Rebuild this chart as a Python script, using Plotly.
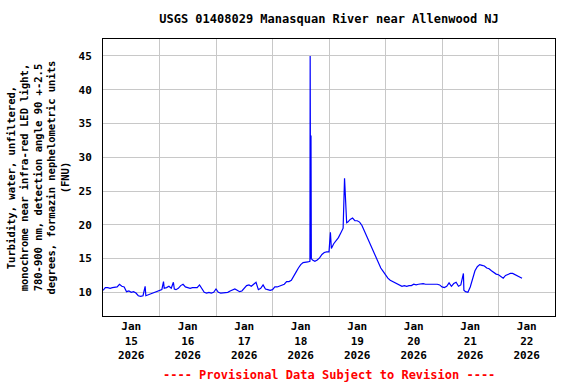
import plotly.graph_objects as go
import pandas as pd

start = pd.Timestamp("2026-01-15 00:00")

# hours after start, and turbidity values (FNU)
hours = [0, 1, 2, 3, 4, 5, 6, 7, 8, 9, 10, 11, 12, 13, 14, 15, 16, 17, 17.9, 18.2, 19, 20, 21, 22, 23,
         24, 25, 25.7, 26, 27, 28, 29, 29.9, 30.3, 31, 32, 33, 34, 35, 36, 37, 38, 39, 40, 41, 42, 43, 44,
         45, 46, 47, 48, 49, 50, 51, 52, 53, 54, 55, 56, 57, 58, 59, 60, 61, 62, 63, 64, 65, 66, 67, 68,
         69, 70, 71, 72, 73, 74, 75, 76, 77, 78, 79, 80, 81, 82, 83, 84, 85, 86, 87, 87.9, 88.0, 88.2,
         88.35, 88.5, 89, 90, 91, 92, 93, 94, 95, 96, 96.6, 97, 98, 99, 100, 101, 102, 102.6, 102.8, 103.1,
         103.5, 104, 105, 106, 107, 108, 109, 110, 111, 112, 113, 114, 115, 116, 117, 118, 119, 120, 121,
         122, 123, 124, 125, 126, 127, 128, 129, 130, 131, 132, 133, 134, 135, 136, 137, 138, 139, 140,
         141, 142, 143, 144, 145, 146, 147, 148, 149, 150, 151, 152, 153.1, 153.3, 154, 155, 156, 157,
         158, 159, 160, 161, 162, 163, 164, 165, 166, 167, 168, 169, 170, 171, 172, 173, 174, 175, 176,
         177, 178]
fnu = [10.3, 10.7, 10.7, 10.6, 10.7, 10.7, 10.8, 11.2, 10.9, 10.8, 10.1, 10.2, 10.0, 10.1, 9.9, 9.5,
       9.4, 9.5, 10.9, 9.5, 9.6, 9.7, 9.8, 10.0, 10.1, 10.2, 10.4, 11.6, 10.6, 10.7, 10.9, 10.6, 11.5,
       10.5, 10.4, 10.6, 11.0, 11.2, 10.8, 10.7, 10.6, 10.7, 10.7, 10.7, 11.1, 10.6, 10.0, 9.9, 10.0, 9.9,
       10.0, 10.5, 10.0, 9.9, 9.9, 9.9, 10.0, 10.2, 10.4, 10.5, 10.3, 10.1, 10.2, 10.6, 11.0, 11.1, 10.9,
       11.2, 11.5, 10.4, 10.6, 11.1, 10.5, 10.4, 10.3, 10.4, 10.8, 10.8, 10.9, 11.0, 11.2, 11.6, 11.6,
       11.8, 12.5, 13.0, 13.6, 14.1, 14.4, 14.4, 14.5, 14.6, 45.0, 14.9, 33.2, 15.0, 14.8, 14.6, 14.8,
       15.1, 15.6, 15.9, 16.0, 16.0, 18.9, 16.5, 17.2, 17.6, 18.1, 18.8, 19.5, 26.9, 25.6, 23.3, 20.3,
       20.4, 20.8, 21.0, 20.6, 20.6, 20.4, 19.9, 19.1, 18.2, 17.4, 16.6, 16.0, 15.1, 14.3, 13.6, 13.1,
       12.6, 12.1, 11.8, 11.6, 11.4, 11.2, 11.0, 10.9, 11.0, 10.9, 11.0, 11.0, 11.2, 11.1, 11.2, 11.3,
       11.3, 11.2, 11.2, 11.3, 11.3, 11.3, 11.2, 11.1, 10.8, 10.7, 10.9, 11.4, 10.9, 11.3, 11.5, 10.9,
       11.1, 12.8, 10.3, 10.1, 10.0, 10.8, 12.2, 13.2, 13.8, 14.1, 14.0, 13.9, 13.6, 13.5, 13.2, 12.9,
       12.7, 12.6, 12.3, 12.1, 12.5, 12.7, 12.8, 12.8, 12.6, 12.5, 12.3, 12.1]

y_ticks = [10, 15, 20, 25, 30, 35, 40, 45]

times = [start + pd.Timedelta(hours=h) for h in hours]

FONT = "DejaVu Sans Mono"

fig = go.Figure()
fig.add_trace(go.Scatter(x=times, y=fnu, mode="lines",
                         line=dict(color="#0000ff", width=1.2), showlegend=False))

fig.update_layout(
    width=576, height=384,
    margin=dict(l=103, r=21, t=39, b=68),
    paper_bgcolor="white", plot_bgcolor="white",
    title=dict(text="USGS 01408029 Manasquan River near Allenwood NJ",
               x=0.5, xref="paper", xanchor="center", y=1 - 19 / 384, yref="container",
               yanchor="middle",
               font=dict(family=FONT, size=12, color="black", weight="bold")),
)
fig.update_xaxes(
    range=[pd.Timestamp("2026-01-15 00:00"), pd.Timestamp("2026-01-23 00:00")],
    tick0="2026-01-15", dtick=86400000, ticklabelmode="period",
    tickformat="%b<br>%d<br>%Y",
    showgrid=True, gridcolor="#c8c8c8", gridwidth=1,
    showline=True, linecolor="black", linewidth=1, mirror=True,
    ticks="", zeroline=False,
    tickfont=dict(family=FONT, size=11, color="black", weight="bold"),
)
fig.update_yaxes(
    range=[6.5, 47.5], tickvals=y_ticks,
    showgrid=True, gridcolor="#c8c8c8", gridwidth=1,
    showline=True, linecolor="black", linewidth=1, mirror=True,
    ticks="", zeroline=False, ticklabelstandoff=8,
    tickfont=dict(family=FONT, size=11, color="black", weight="bold"),
)
fig.add_annotation(
    text=("Turbidity, water, unfiltered,<br>monochrome near infra-red LED light,<br>"
          "780-900 nm, detection angle 90 +-2.5<br>degrees, formazin nephelometric units<br>(FNU)"),
    xref="paper", yref="paper", x=(38 - 103) / 452, y=0.5,
    xanchor="center", yanchor="middle", textangle=-90, showarrow=False,
    font=dict(family=FONT, size=10.5, color="black", weight="bold"),
)
fig.add_annotation(
    text="---- Provisional Data Subject to Revision ----",
    xref="paper", yref="paper", x=0.5, y=-(375 - 316) / 277,
    xanchor="center", yanchor="middle", showarrow=False,
    font=dict(family=FONT, size=12, color="red", weight="bold"),
)
fig.write_html("out.html", post_script="document.body.style.margin='0';",
               config={"displayModeBar": False})
